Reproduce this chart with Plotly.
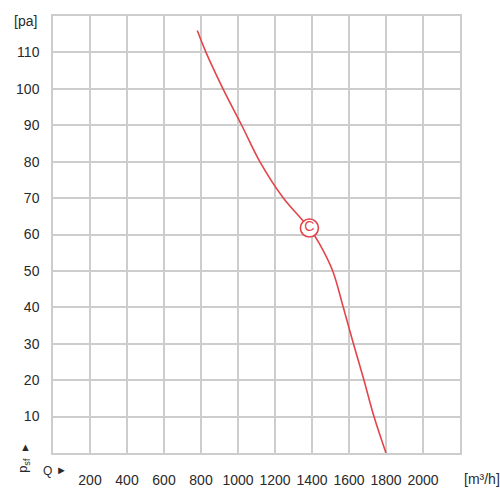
import plotly.graph_objects as go

# Data
flow = [780, 827, 919, 1020, 1118, 1245, 1330, 1386, 1440, 1512, 1569, 1624, 1681, 1735, 1800]
pressure = [116, 110, 100, 90, 80, 70, 65, 61.8, 57.5, 50, 40, 30, 20, 10, 0]
point_q = [1386]
point_p = [61.8]
point_label = ["C"]
x_ticks = [200, 400, 600, 800, 1000, 1200, 1400, 1600, 1800, 2000]
y_ticks = [10, 20, 30, 40, 50, 60, 70, 80, 90, 100, 110]

red = "#e2464b"
grid = "#cdcdcd"
txt = "#2a2a2a"
font = "Liberation Sans, Arial, sans-serif"

fig = go.Figure()
fig.add_trace(go.Scatter(x=flow, y=pressure, mode="lines",
                         line=dict(color=red, width=1.6, shape="spline", smoothing=1.0),
                         hoverinfo="skip", showlegend=False))
fig.add_trace(go.Scatter(x=point_q, y=point_p, mode="markers+text",
                         marker=dict(size=18, color="white", line=dict(color=red, width=1.6)),
                         text=point_label, textposition="middle center",
                         textfont=dict(color=red, size=14, family=font),
                         showlegend=False, hoverinfo="skip"))

fig.update_layout(
    width=500, height=500,
    margin=dict(l=53, r=40, t=16, b=42),
    paper_bgcolor="white", plot_bgcolor="white",
    font=dict(family=font, size=14, color=txt),
    xaxis=dict(range=[0, 2200], tickvals=x_ticks,
               showgrid=True, gridcolor=grid, gridwidth=1.5,
               showline=True, linecolor=grid, linewidth=1.5, mirror=True,
               ticks="", ticklabelstandoff=13, zeroline=False, fixedrange=True),
    yaxis=dict(range=[0, 120], tickvals=y_ticks,
               showgrid=True, gridcolor=grid, gridwidth=1.5,
               showline=True, linecolor=grid, linewidth=1.5, mirror=True,
               ticks="", ticklabelstandoff=9, zeroline=False, fixedrange=True),
)

ann = [
    dict(text="[pa]", x=25, y=21),
    dict(text="[m³/h]", x=462, y=484, xanchor="left"),
    dict(text="Q", x=47, y=476, size=12),
    dict(text="►", x=61, y=475, size=11),
    dict(text="▲", x=25, y=452, size=11),
    dict(text="p<sub>sf</sub>", x=24, y=470, size=13, textangle=-90),
]
for a in ann:
    fig.add_annotation(text=a["text"], xref="paper", yref="paper",
                       x=(a["x"] - 53) / 407, y=(458 - a["y"]) / 442,
                       xanchor=a.get("xanchor", "center"), yanchor="middle",
                       showarrow=False, textangle=a.get("textangle", 0),
                       font=dict(size=a.get("size", 14), color=txt, family=font))

fig.write_html("out.html")
